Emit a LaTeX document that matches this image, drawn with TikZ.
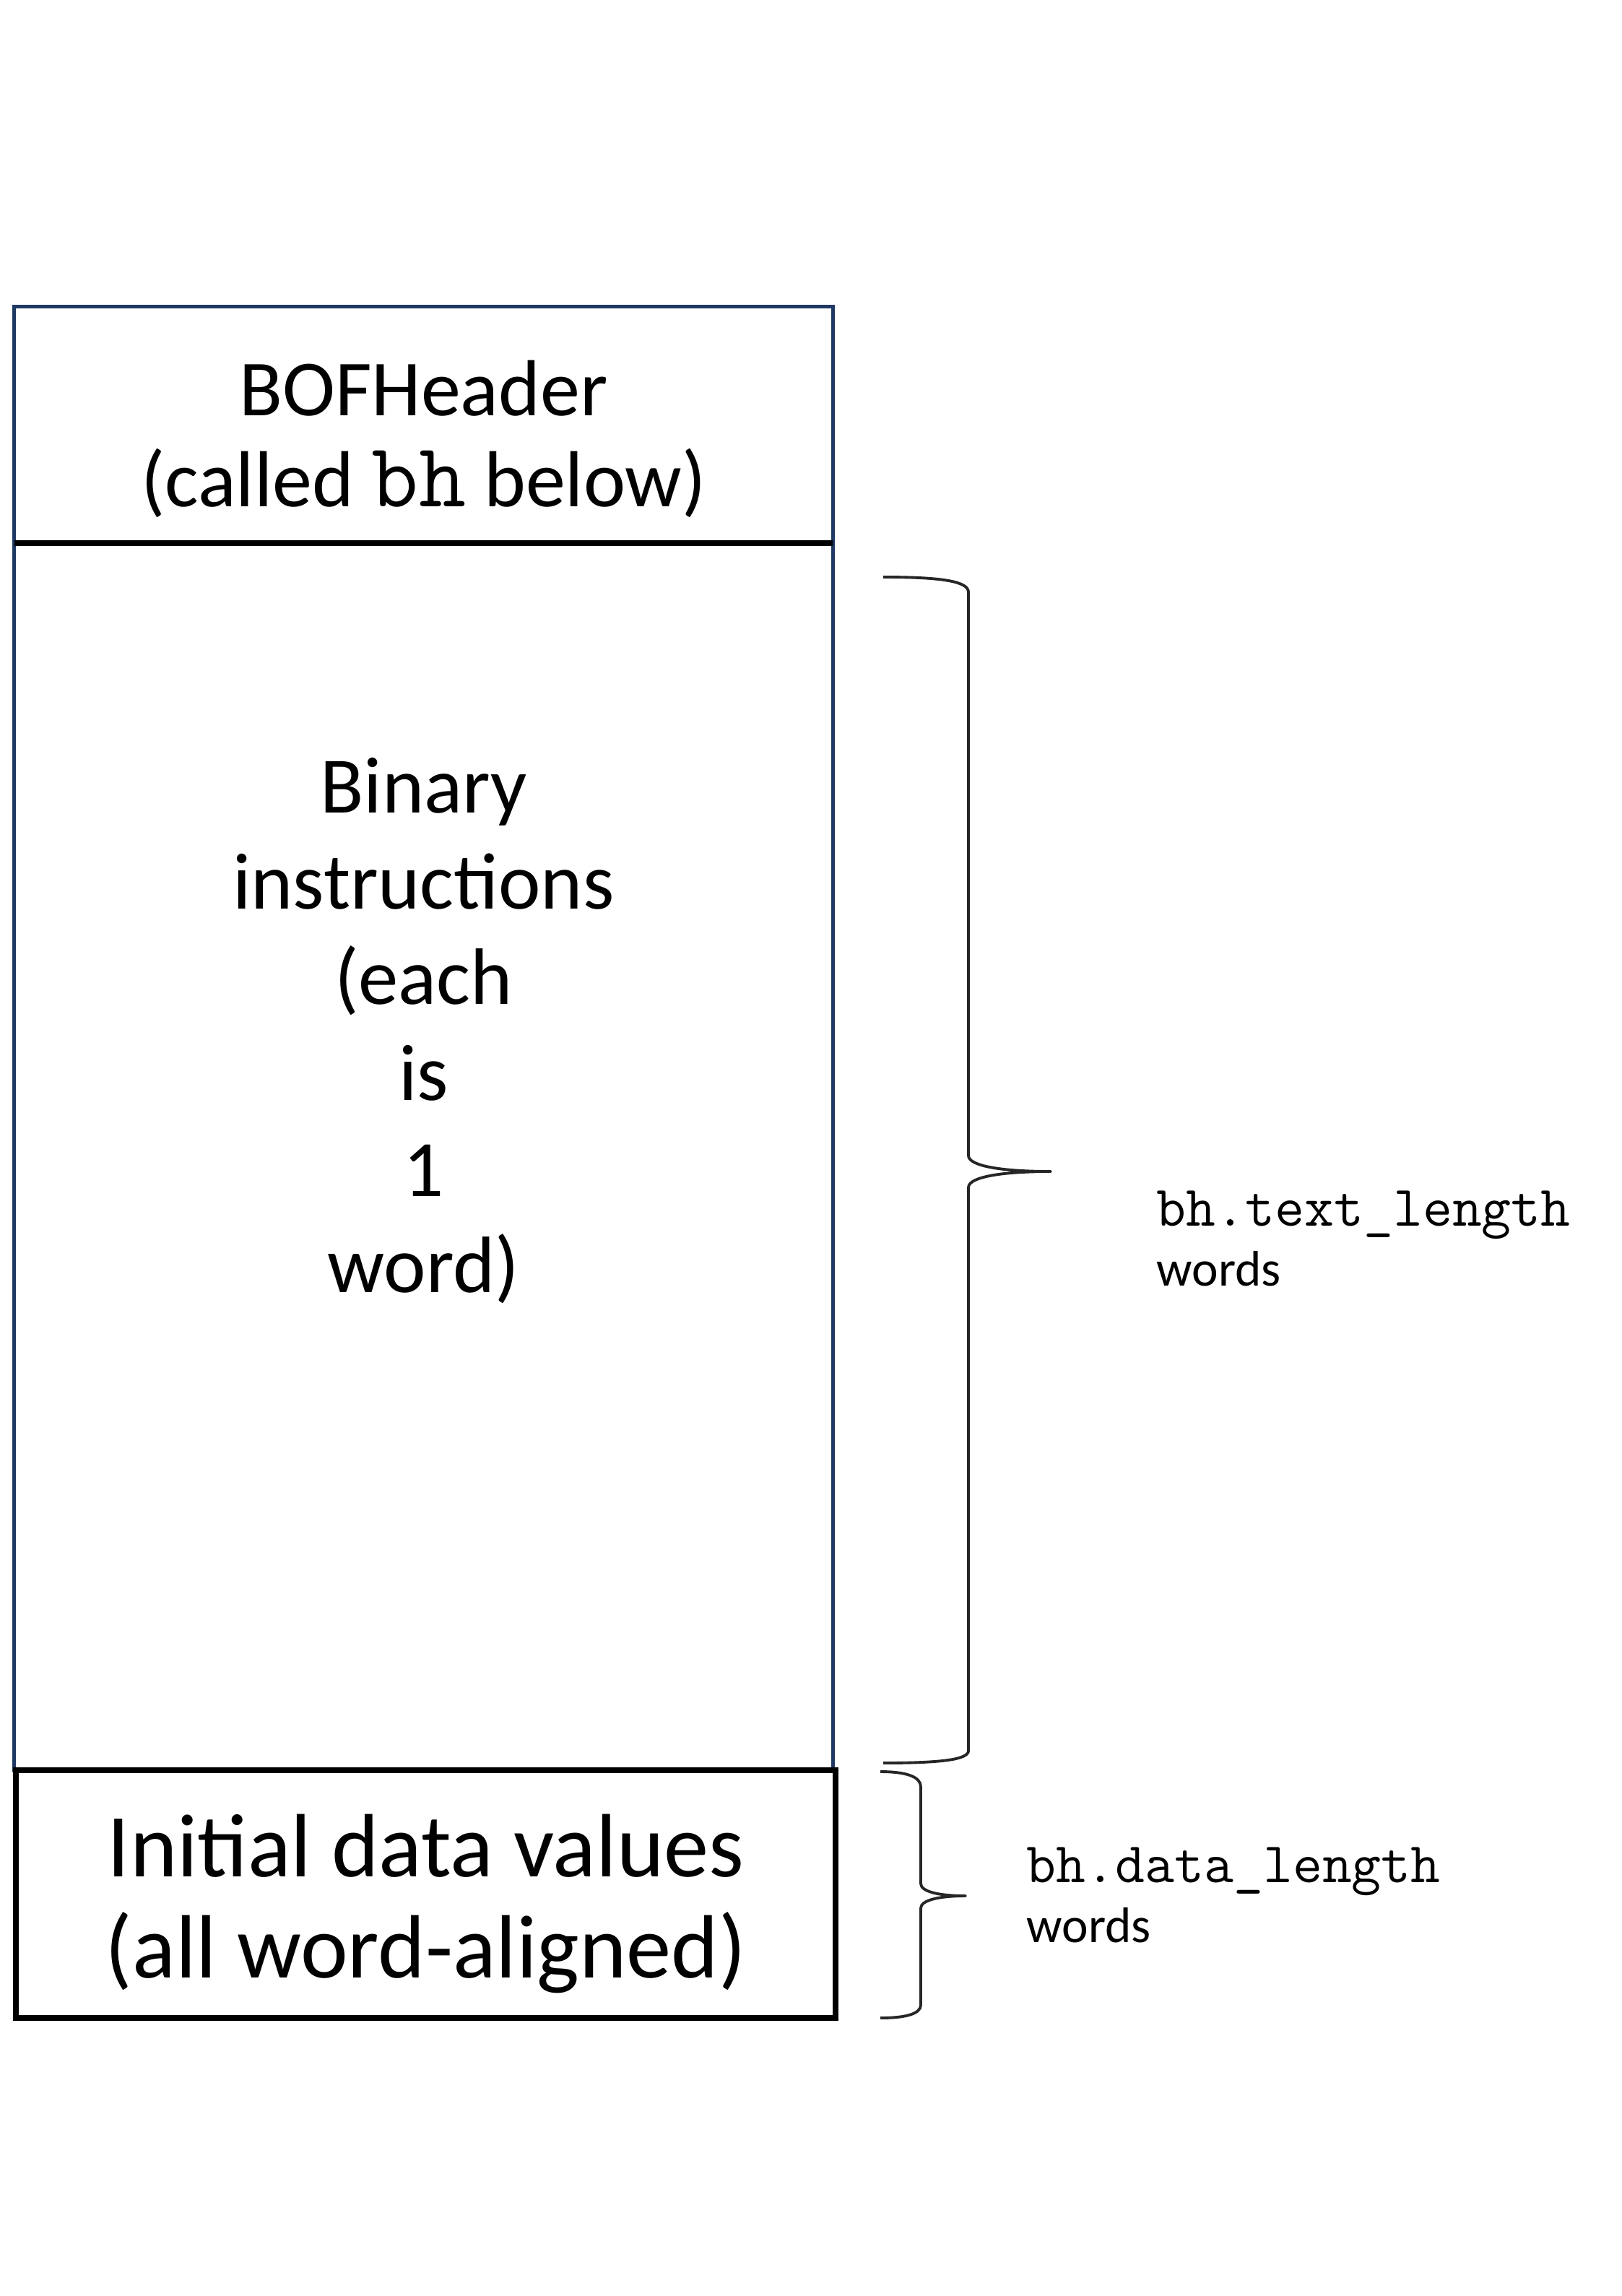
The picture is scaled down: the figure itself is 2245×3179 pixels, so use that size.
\documentclass[tikz,border=0pt]{standalone}
\usepackage{fontspec}
\setmainfont{Carlito}
\definecolor{navy}{HTML}{1F3864}
\begin{document}
\begin{tikzpicture}[x=0.01cm,y=-0.01cm,
  box/.style={rectangle,inner sep=0pt,outer sep=0pt,align=center},
  txt/.style={inner sep=0pt,align=center},
  bracepath/.style={draw=black!85,line width=1.1pt,line join=round},
  lbl/.style={anchor=west,align=left,inner sep=0pt,font=\fontsize{19.7}{23.6}\selectfont},
  monolbl/.style={font=\fontsize{22.6}{23.6}\selectfont\ttfamily}]
\useasboundingbox (0,0) rectangle (2245,3179);
% boxes
\node[box,draw=navy,line width=1.4pt,minimum width=11.33cm,minimum height=16.99cm] (bin) at (586.5,1601.5) {};
\node[txt,font=\fontsize{31.5}{37.8}\selectfont] (bintxt) at (586.5,1427)
  {Binary\\instructions\\(each\\is\\1\\word)};
\node[box,draw=navy,line width=1.4pt,minimum width=11.33cm,minimum height=3.27cm] (hdr) at (586.5,588.5) {};
\node[txt,font=\fontsize{31.3}{35.6}\selectfont] (hdrtxt) at (586.5,608)
  {BOFHeader\\(called {\fontsize{36}{35.6}\selectfont\ttfamily bh} below)};
\draw[line width=2.3pt] (hdr.south west) -- (hdr.south east);
\node[box,draw=black,line width=2.3pt,minimum width=11.35cm,minimum height=3.43cm] (dat) at (589.5,2622.5) {};
\node[txt,font=\fontsize{35.4}{40}\selectfont] (dattxt) at (589.5,2636)
  {Initial data values\\(all word-aligned)};
% braces
\coordinate (b1top) at (1223,799);
\coordinate (b1tip) at (1455,1622);
\coordinate (b1bot) at (1223,2441);
\draw[bracepath] (b1top) .. controls (1305,799) and (1341,805) .. (1341,820) -- (1341,1600)
  .. controls (1341,1614) and (1385,1622) .. (b1tip)
  .. controls (1385,1622) and (1341,1630) .. (1341,1644) -- (1341,2424)
  .. controls (1341,2436) and (1305,2441) .. (b1bot);
\coordinate (b2top) at (1219,2453);
\coordinate (b2tip) at (1337,2625);
\coordinate (b2bot) at (1219,2794);
\draw[bracepath] (b2top) .. controls (1255,2453) and (1275,2460) .. (1275,2474) -- (1275,2608)
  .. controls (1275,2619) and (1300,2625) .. (b2tip)
  .. controls (1300,2625) and (1275,2631) .. (1275,2642) -- (1275,2776)
  .. controls (1275,2788) and (1255,2794) .. (b2bot);
% labels
\node[lbl] (tl) at (1601,1715) {{\fontsize{22.6}{23.6}\selectfont\ttfamily bh.text\_length}\\words};
\node[lbl] (dl) at (1421,2624) {{\fontsize{22.6}{23.6}\selectfont\ttfamily bh.data\_length}\\words};
\end{tikzpicture}
\end{document}
